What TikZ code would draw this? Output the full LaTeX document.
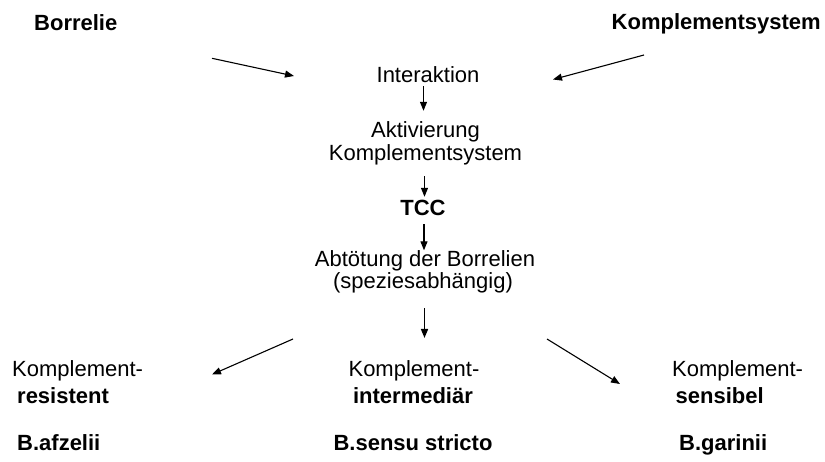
\documentclass[tikz,border=0pt]{standalone}
\usepackage{fontspec}
\setmainfont{Liberation Sans}
\usetikzlibrary{arrows.meta}
\begin{document}
\begin{tikzpicture}[x=1pt,y=-1pt,
  txt/.style={inner sep=0pt, text height=16pt, text depth=5pt, font=\fontsize{22}{24}\selectfont},
  btxt/.style={inner sep=0pt, text height=16pt, text depth=5pt, font=\fontsize{22}{24}\selectfont\bfseries},
  arr/.style={line width=1.1pt, -{Triangle[length=9pt,width=7pt]}},
  thickarr/.style={line width=1.6pt, -{Triangle[length=9pt,width=7pt]}}
]
\fill[white] (0,0) rectangle (825,462);
\useasboundingbox (0,0) rectangle (825,462);

% top row
\node[btxt, anchor=base west] (borrelie) at (34,30.5) {Borrelie};
\node[btxt, anchor=base east] (ks) at (821,30) {Komplementsystem};

% central column
\node[txt, anchor=base] (inter) at (428,83) {Interaktion};
\node[txt, anchor=base] (akt1) at (425.5,138) {Aktivierung};
\node[txt, anchor=base] (akt2) at (425.5,161) {Komplementsystem};
\node[btxt, anchor=base] (tcc) at (423,216) {TCC};
\node[txt, anchor=base] (abt1) at (425,266.5) {Abtötung der Borrelien};
\node[txt, anchor=base] (abt2) at (423,289) {(speziesabhängig)};

% bottom columns
\node[txt, anchor=base west] (l1) at (12,377) {Komplement-};
\node[btxt, anchor=base west] (l2) at (17,403) {resistent};
\node[btxt, anchor=base west] (l3) at (17,450) {B.afzelii};

\node[txt, anchor=base] (m1) at (414,377) {Komplement-};
\node[btxt, anchor=base] (m2) at (413,403.5) {intermediär};
\node[btxt, anchor=base] (m3) at (413,450) {B.sensu stricto};

\node[txt, anchor=base west] (r1) at (672,377) {Komplement-};
\node[btxt, anchor=base west] (r2) at (675.5,403.5) {sensibel};
\node[btxt, anchor=base west] (r3) at (679,450) {B.garinii};

% free arrow ends
\coordinate (bs) at (212,58.3);
\coordinate (be) at (294,76);
\coordinate (ksS) at (644,55);
\coordinate (ksE) at (553,79.5);
\coordinate (ls) at (293,339);
\coordinate (le) at (212,374.5);
\coordinate (rs) at (547,339);
\coordinate (re) at (620,384);
\coordinate (me) at (424.5,338);

\draw[arr] (bs) -- (be);
\draw[arr] (ksS) -- (ksE);

\draw[arr] ([yshift=2pt]inter.south -| 423.5,0) -- ([yshift=11pt]akt1.north -| 423.5,0);
\draw[arr] ([yshift=-10pt]akt2.south -| 424.5,0) -- ([yshift=3pt]tcc.north -| 424.5,0);
\draw[arr] ([yshift=-3pt]tcc.south -| 424,0) -- ([yshift=0pt]abt1.north -| 424,0);
\draw[thickarr] ([yshift=-14pt]abt2.south -| me) -- (me);

\draw[arr] (ls) -- (le);
\draw[arr] (rs) -- (re);
\end{tikzpicture}
\end{document}
